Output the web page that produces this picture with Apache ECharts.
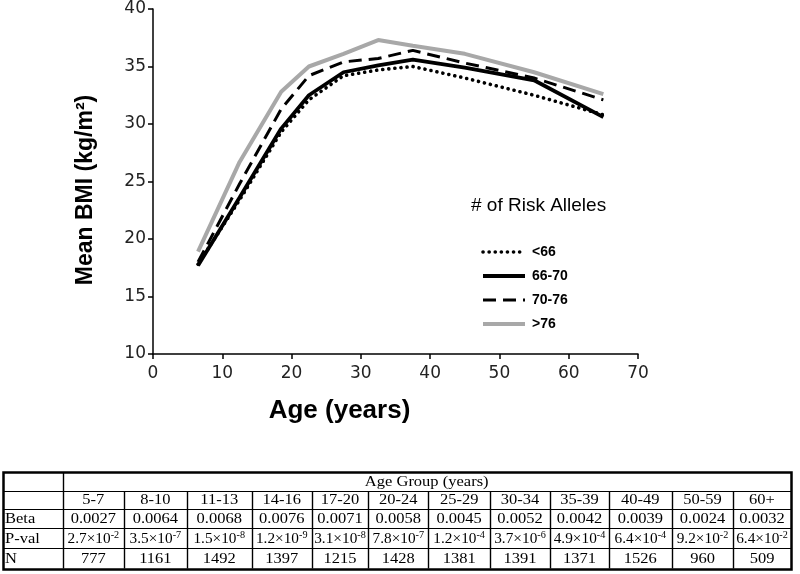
<!DOCTYPE html>
<html><head><meta charset="utf-8">
<script src="https://cdn.jsdelivr.net/npm/echarts@6/dist/echarts.min.js"></script>
<style>html,body{margin:0;padding:0;background:#fff}#c{width:800px;height:574px}</style>
</head><body><div id="c"></div>
<script>
// ---- chart data ----
const ages = [6.5, 12.5, 18.5, 22.5, 27.5, 32.5, 37.5, 45, 55, 65];
const bmiLt66  = [17.8, 23.4, 29.3, 32.1, 34.2, 34.7, 35.0, 34.0, 32.5, 30.8];
const bmi6670  = [17.7, 23.6, 29.6, 32.5, 34.5, 35.1, 35.6, 34.9, 33.8, 30.6];
const bmi7076  = [18.0, 24.8, 31.3, 34.2, 35.4, 35.7, 36.4, 35.3, 34.0, 32.1];
const bmiGt76  = [18.9, 26.7, 32.8, 35.0, 36.1, 37.3, 36.8, 36.1, 34.5, 32.6];
const seriesNames = ['<66', '66-70', '70-76', '>76'];
const legendTitle = '# of Risk Alleles';
const xAxisName = 'Age (years)';
const yAxisName = 'Mean BMI (kg/m²)';

// ---- table data ----
const tableHeader = 'Age Group (years)';
const ageGroups = ['5-7','8-10','11-13','14-16','17-20','20-24','25-29','30-34','35-39','40-49','50-59','60+'];
const betaVals = ['0.0027','0.0064','0.0068','0.0076','0.0071','0.0058','0.0045','0.0052','0.0042','0.0039','0.0024','0.0032'];
const pMant = ['2.7','3.5','1.5','1.2','3.1','7.8','1.2','3.7','4.9','6.4','9.2','6.4'];
const pExp  = ['-2','-7','-8','-9','-8','-7','-4','-6','-4','-4','-2','-2'];
const nVals = ['777','1161','1492','1397','1215','1428','1381','1391','1371','1526','960','509'];
const rowLabels = ['Beta', 'P-val', 'N'];

// ---- layout (table geometry) ----
const colX = [3, 62.7, 124, 186.7, 251.7, 311.7, 368.3, 428.3, 490, 550, 609, 671.7, 733.3, 790.7];
const rowY = [471.7, 490.7, 509.3, 528.3, 548.3, 568.3];

const chart = echarts.init(document.getElementById('c'));
const pair = arr => ages.map((a, i) => [a, arr[i]]);

const sansFont = '"Liberation Sans", Arial, sans-serif';
const tickFont = '"DejaVu Sans", sans-serif';
const serifFont = '"Liberation Serif", "Times New Roman", serif';
const tScale = 1.1;

const graphics = [];
// legend title
graphics.push({ type: 'text', left: 471, top: 196,
  style: { text: legendTitle, font: '19px ' + sansFont, fill: '#000' } });

// table lines
const r = v => Math.round(v) + 0.5;
const lineEl = (x1, y1, x2, y2, w) => ({ type: 'line', shape: { x1, y1, x2, y2 },
  style: { stroke: '#000', lineWidth: w || 1 }, silent: true });
const L = colX[0], R = colX[colX.length - 1], T = rowY[0], B = rowY[rowY.length - 1];
graphics.push({ type: 'rect', shape: { x: r(L), y: r(T), width: Math.round(R - L), height: Math.round(B - T) },
  style: { fill: null, stroke: '#000', lineWidth: 2.5 } });
for (let k = 1; k < rowY.length - 1; k++) graphics.push(lineEl(r(L), r(rowY[k]), r(R), r(rowY[k]), 1.2));
graphics.push(lineEl(r(colX[1]), r(T), r(colX[1]), r(B), 1.4));
for (let k = 2; k < colX.length - 1; k++) graphics.push(lineEl(r(colX[k]), r(rowY[1]), r(colX[k]), r(B), 1.4));

const cellText = (txt, cx, cy, align, sc) => ({ type: 'text', x: cx, y: cy, scaleX: sc || tScale,
  style: { text: txt, font: '15px ' + serifFont, fill: '#000', align: align || 'center', verticalAlign: 'middle' } });
const midY = k => (rowY[k] + rowY[k + 1]) / 2 + 0.5;
graphics.push(cellText(tableHeader, (colX[1] + R) / 2, midY(0)));
ageGroups.forEach((g, i) => {
  const cx = (colX[i + 1] + colX[i + 2]) / 2;
  graphics.push(cellText(g, cx, midY(1)));
  graphics.push(cellText(betaVals[i], cx, midY(2)));
  graphics.push({ type: 'text', x: cx, y: midY(3), scaleX: 1.02,
    style: { text: '{m|' + pMant[i] + '×10}{e|' + pExp[i] + '}', align: 'center', verticalAlign: 'middle',
      rich: { m: { font: '15px ' + serifFont, fill: '#000', lineHeight: 17 },
              e: { font: '10px ' + serifFont, fill: '#000', lineHeight: 11, verticalAlign: 'top' } } } });
  graphics.push(cellText(nVals[i], cx, midY(4)));
});
rowLabels.forEach((lab, k) => graphics.push(cellText(lab, L + 2, midY(k + 2), 'left')));

const baseSeries = { type: 'line', symbol: 'none', smooth: false, clip: false, silent: true };
chart.setOption({
  animation: false,
  backgroundColor: '#fff',
  grid: { left: 153, top: 9, width: 485, height: 345, containLabel: false },
  xAxis: {
    type: 'value', min: 0, max: 70, interval: 10,
    axisLine: { lineStyle: { color: '#000', width: 1.5 } },
    axisTick: { show: true, length: 5, inside: false, lineStyle: { color: '#000', width: 1.5 } },
    axisLabel: { color: '#222', fontSize: 17, fontFamily: tickFont, margin: 11 },
    splitLine: { show: false },
    name: xAxisName, nameLocation: 'middle', nameGap: 44,
    nameTextStyle: { color: '#000', fontSize: 26, fontWeight: 'bold', fontFamily: sansFont, padding: [0, 112, 0, 0] }
  },
  yAxis: {
    type: 'value', min: 10, max: 40, interval: 5,
    axisLine: { show: true, lineStyle: { color: '#000', width: 1.5 } },
    axisTick: { show: true, length: 5, inside: false, lineStyle: { color: '#000', width: 1.5 } },
    axisLabel: { color: '#222', fontSize: 17, fontFamily: tickFont, margin: 7 },
    splitLine: { show: false },
    name: yAxisName, nameLocation: 'middle', nameGap: 56, nameRotate: 90,
    nameTextStyle: { color: '#000', fontSize: 23, fontWeight: 'bold', fontFamily: sansFont, padding: [0, 17, 0, 0] }
  },
  legend: {
    data: seriesNames, orient: 'vertical', left: 481, top: 245, padding: 0,
    itemWidth: 42, itemHeight: 14, itemGap: 10,
    itemStyle: { opacity: 0 },
    lineStyle: { width: 'inherit' },
    textStyle: { color: '#000', fontSize: 14, fontWeight: 'bold', fontFamily: sansFont, padding: [0, 0, 0, 2] }
  },
  series: [
    Object.assign({}, baseSeries, { name: seriesNames[3], data: pair(bmiGt76), z: 2,
      lineStyle: { color: '#a8a8a8', width: 4 }, itemStyle: { color: '#a8a8a8' } }),
    Object.assign({}, baseSeries, { name: seriesNames[2], data: pair(bmi7076), z: 3,
      lineStyle: { color: '#000', width: 3, type: [13, 7] }, itemStyle: { color: '#000' } }),
    Object.assign({}, baseSeries, { name: seriesNames[0], data: pair(bmiLt66), z: 4,
      lineStyle: { color: '#000', width: 3.6, type: [0.1, 6], cap: 'round' }, itemStyle: { color: '#000' } }),
    Object.assign({}, baseSeries, { name: seriesNames[1], data: pair(bmi6670), z: 5,
      lineStyle: { color: '#000', width: 3.8 }, itemStyle: { color: '#000' } })
  ],
  graphic: graphics
});
</script></body></html>
